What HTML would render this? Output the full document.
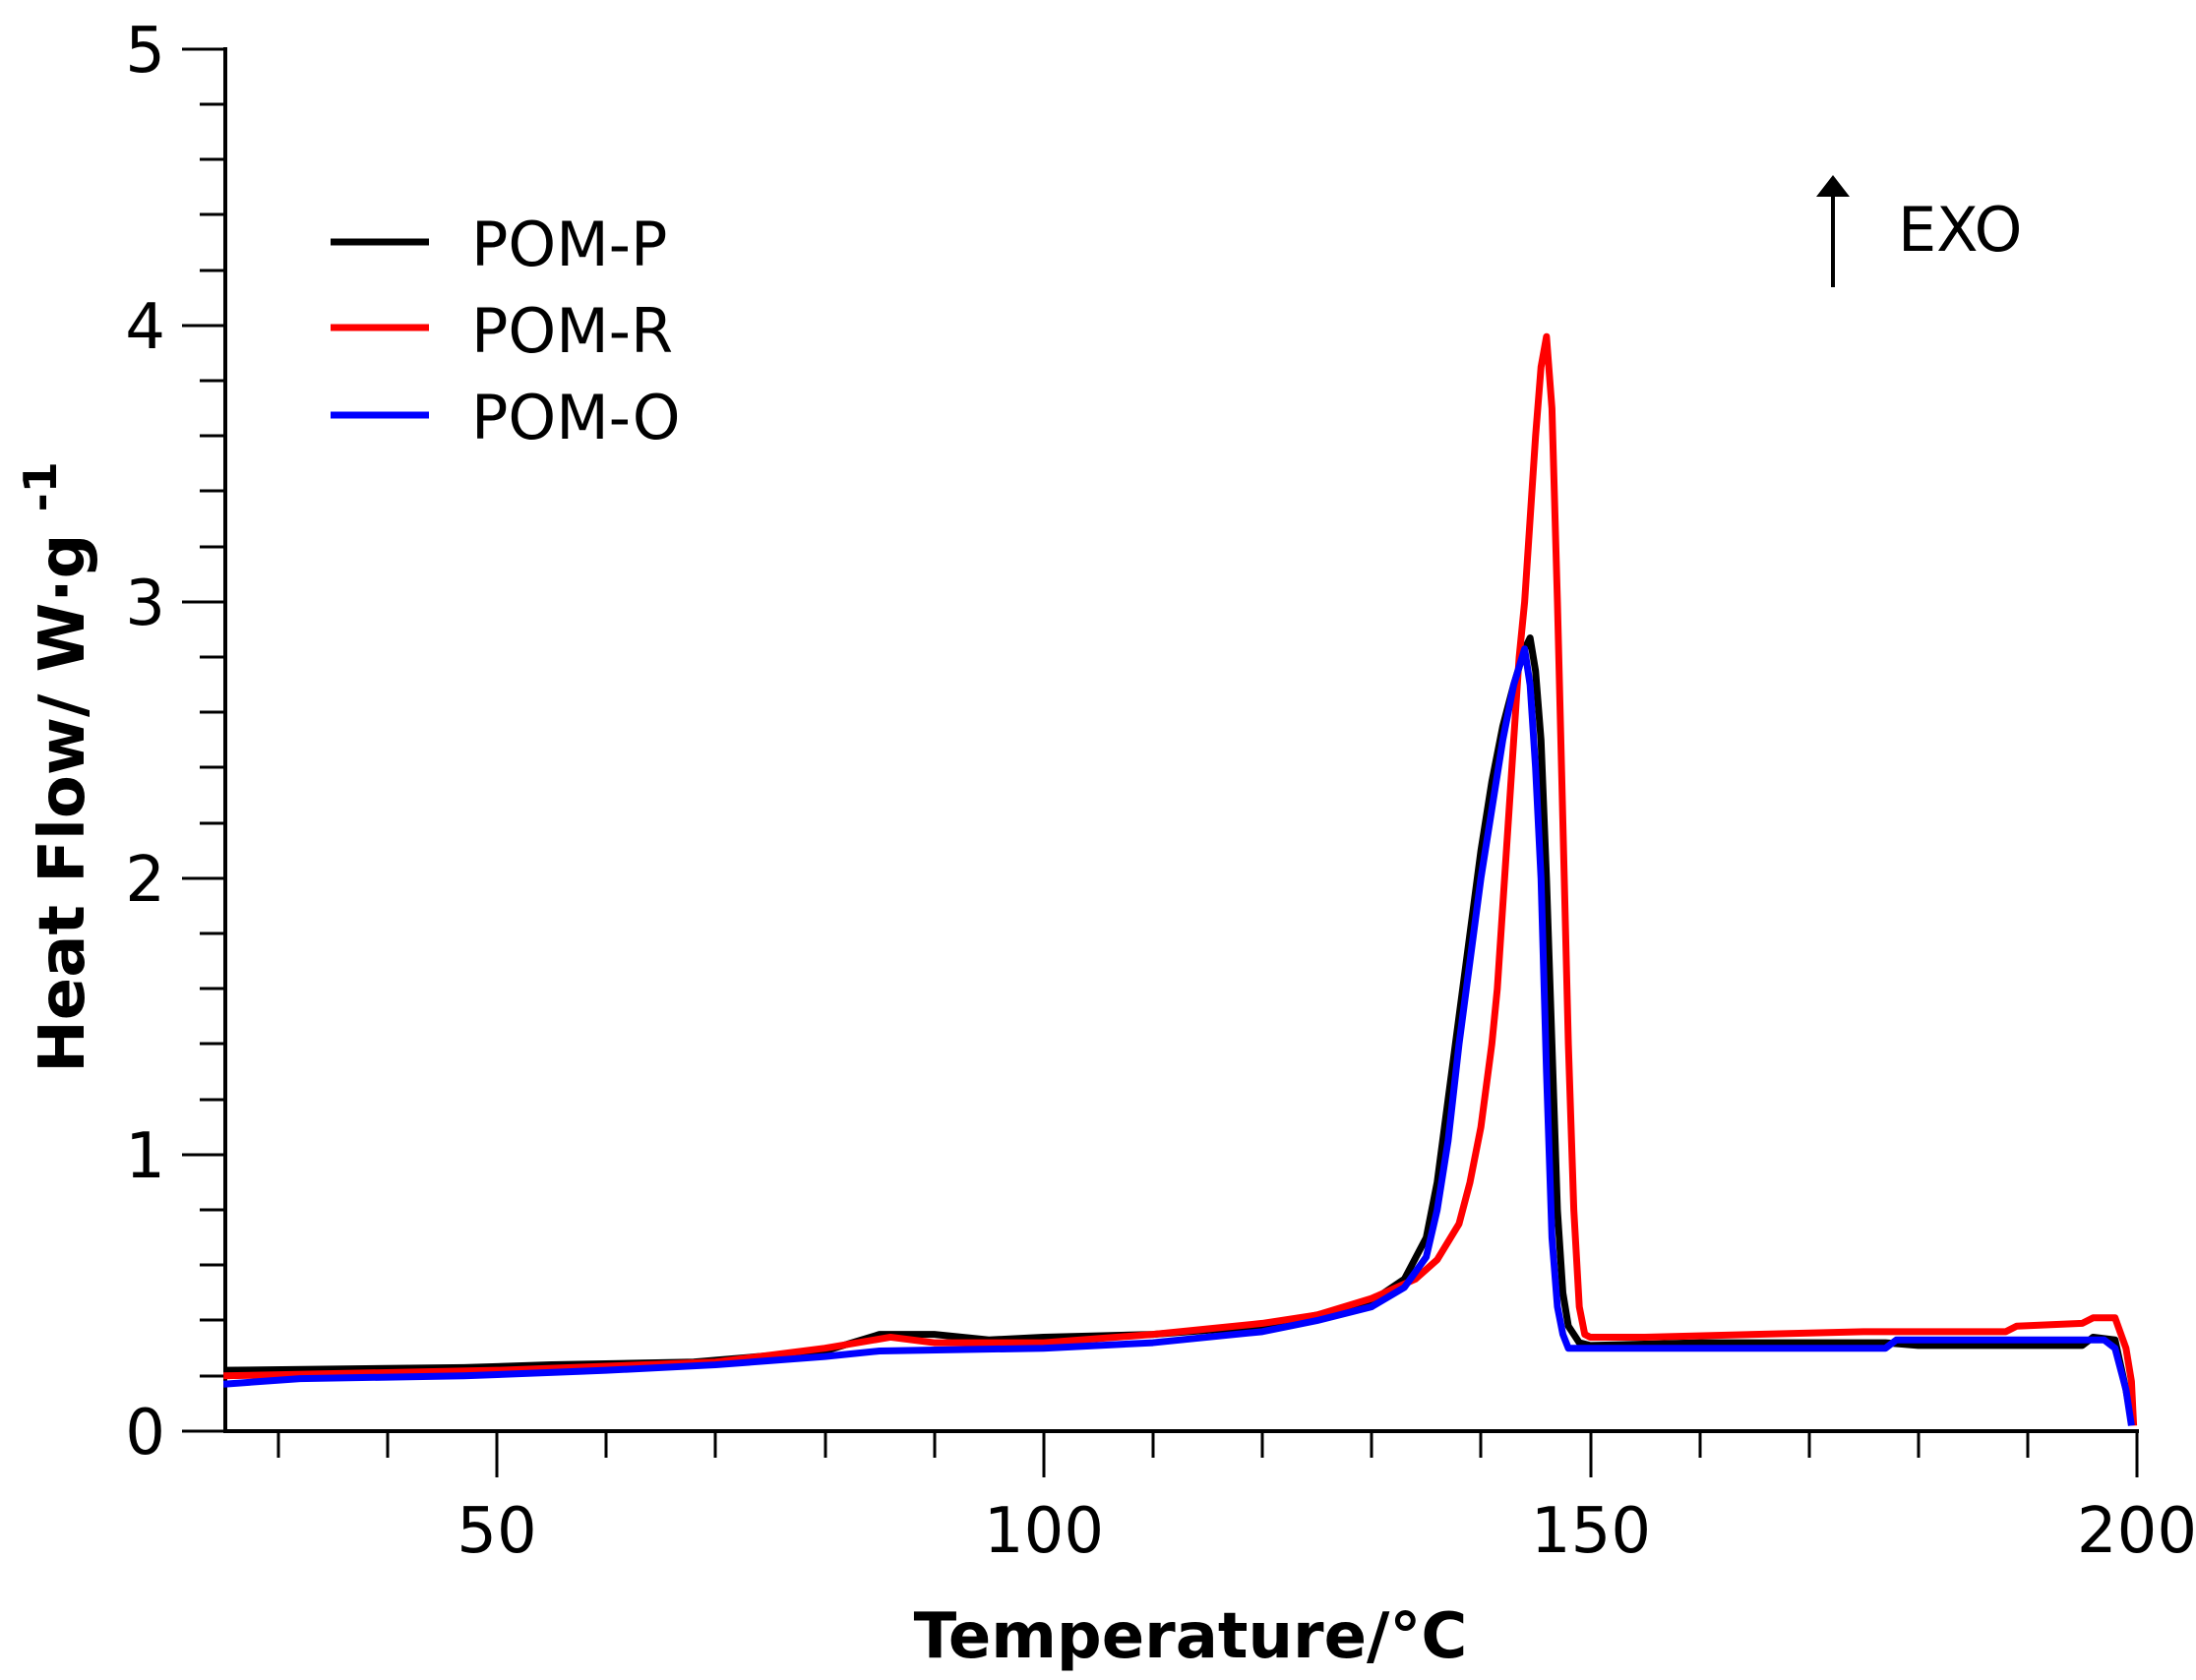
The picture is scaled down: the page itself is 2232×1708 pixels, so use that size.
<!DOCTYPE html>
<html><head><style>
html,body{margin:0;padding:0;background:#fff;}
svg{display:block;}
text{font-family:"DejaVu Sans","Liberation Sans",sans-serif;fill:#000;}
</style></head><body>
<svg width="2232" height="1708" viewBox="0 0 2232 1708" xmlns="http://www.w3.org/2000/svg">
<line x1="229" y1="48" x2="229" y2="1457" stroke="#000" stroke-width="4"/>
<line x1="227" y1="1455" x2="2174" y2="1455" stroke="#000" stroke-width="4"/>
<g stroke="#000" stroke-width="3">
<line x1="185" y1="50" x2="229" y2="50"/><line x1="185" y1="331" x2="229" y2="331"/>
<line x1="185" y1="612" x2="229" y2="612"/><line x1="185" y1="893" x2="229" y2="893"/>
<line x1="185" y1="1174" x2="229" y2="1174"/><line x1="185" y1="1455" x2="229" y2="1455"/>
<line x1="203" y1="106" x2="229" y2="106"/><line x1="203" y1="162" x2="229" y2="162"/><line x1="203" y1="218" x2="229" y2="218"/><line x1="203" y1="275" x2="229" y2="275"/>
<line x1="203" y1="387" x2="229" y2="387"/><line x1="203" y1="443" x2="229" y2="443"/><line x1="203" y1="499" x2="229" y2="499"/><line x1="203" y1="556" x2="229" y2="556"/>
<line x1="203" y1="668" x2="229" y2="668"/><line x1="203" y1="724" x2="229" y2="724"/><line x1="203" y1="780" x2="229" y2="780"/><line x1="203" y1="837" x2="229" y2="837"/>
<line x1="203" y1="949" x2="229" y2="949"/><line x1="203" y1="1005" x2="229" y2="1005"/><line x1="203" y1="1061" x2="229" y2="1061"/><line x1="203" y1="1118" x2="229" y2="1118"/>
<line x1="203" y1="1230" x2="229" y2="1230"/><line x1="203" y1="1286" x2="229" y2="1286"/><line x1="203" y1="1342" x2="229" y2="1342"/><line x1="203" y1="1399" x2="229" y2="1399"/>
<line x1="283" y1="1455" x2="283" y2="1482"/><line x1="394" y1="1455" x2="394" y2="1482"/>
<line x1="505" y1="1455" x2="505" y2="1502"/>
<line x1="616" y1="1455" x2="616" y2="1482"/><line x1="727" y1="1455" x2="727" y2="1482"/><line x1="839" y1="1455" x2="839" y2="1482"/><line x1="950" y1="1455" x2="950" y2="1482"/>
<line x1="1061" y1="1455" x2="1061" y2="1502"/>
<line x1="1172" y1="1455" x2="1172" y2="1482"/><line x1="1283" y1="1455" x2="1283" y2="1482"/><line x1="1394" y1="1455" x2="1394" y2="1482"/><line x1="1505" y1="1455" x2="1505" y2="1482"/>
<line x1="1617" y1="1455" x2="1617" y2="1502"/>
<line x1="1728" y1="1455" x2="1728" y2="1482"/><line x1="1839" y1="1455" x2="1839" y2="1482"/><line x1="1950" y1="1455" x2="1950" y2="1482"/><line x1="2061" y1="1455" x2="2061" y2="1482"/>
<line x1="2172" y1="1455" x2="2172" y2="1502"/>
</g>
<g font-size="64" text-anchor="end">
<text x="168" y="73">5</text><text x="168" y="354">4</text><text x="168" y="635">3</text>
<text x="168" y="916">2</text><text x="168" y="1197">1</text><text x="168" y="1478">0</text>
</g>
<g font-size="64" text-anchor="middle">
<text x="505" y="1578">50</text><text x="1061" y="1578">100</text><text x="1617" y="1578">150</text><text x="2172" y="1578">200</text>
</g>
<text x="1210" y="1685" font-size="64" font-weight="bold" text-anchor="middle">Temperature/°C</text>
<text transform="translate(85,780) rotate(-90)" font-size="64" font-weight="bold" text-anchor="middle">Heat Flow/ W·g <tspan dy="-28" font-size="46">-1</tspan></text>
<line x1="336" y1="246" x2="436" y2="246" stroke="#000" stroke-width="7"/>
<line x1="336" y1="333" x2="436" y2="333" stroke="#f00" stroke-width="7"/>
<line x1="336" y1="422" x2="436" y2="422" stroke="#00f" stroke-width="7"/>
<g font-size="62"><text x="479" y="270">POM-P</text><text x="479" y="358">POM-R</text><text x="479" y="446">POM-O</text></g>
<line x1="1863" y1="195" x2="1863" y2="292" stroke="#000" stroke-width="4"/>
<polygon points="1863,178 1846,200 1880,200" fill="#000"/>
<text x="1929" y="255" font-size="62">EXO</text>
<g transform="matrix(11.113 0 0 -281 -50.65 1455)" fill="none" stroke-width="7" stroke-linejoin="round">
<polyline vector-effect="non-scaling-stroke" stroke="#000" points="25,0.22 47,0.23 55,0.24 68,0.25 80,0.29 85,0.35 90,0.35 95,0.33 100,0.34 110,0.35 120,0.38 125,0.42 130,0.47 133,0.55 135,0.7 136,0.9 137,1.2 138,1.5 139,1.8 140,2.1 141,2.35 142,2.55 143,2.7 144,2.83 144.5,2.87 145,2.75 145.5,2.5 146,2.0 146.5,1.4 147,0.8 147.5,0.5 148,0.38 149,0.32 150,0.31 160,0.32 177,0.32 180,0.31 195,0.31 196,0.34 198,0.33 199,0.15 199.5,0.04"/>
<polyline vector-effect="non-scaling-stroke" stroke="#f00" points="25,0.2 50,0.22 70,0.25 80,0.3 86,0.34 90,0.32 100,0.32 110,0.35 120,0.39 125,0.42 130,0.48 134,0.55 136,0.62 138,0.75 139,0.9 140,1.1 141,1.4 141.5,1.6 142,1.9 142.5,2.2 143,2.5 143.5,2.8 144,3.0 144.5,3.3 145,3.6 145.5,3.85 146,3.96 146.5,3.7 147,3.0 147.5,2.2 148,1.4 148.5,0.8 149,0.45 149.5,0.35 150,0.34 155,0.34 175,0.36 188,0.36 189,0.38 195,0.39 196,0.41 198,0.41 199,0.3 199.5,0.18 199.7,0.02"/>
<polyline vector-effect="non-scaling-stroke" stroke="#00f" points="25,0.17 32,0.19 47,0.2 60,0.22 70,0.24 80,0.27 85,0.29 100,0.3 110,0.32 120,0.36 125,0.4 130,0.45 133,0.52 135,0.63 136,0.8 137,1.05 138,1.4 139,1.7 140,2.0 141,2.25 142,2.5 143,2.7 144,2.83 144.5,2.7 145,2.4 145.5,2.0 146,1.3 146.5,0.7 147,0.45 147.5,0.35 148,0.3 150,0.3 177,0.3 178,0.33 197,0.33 198,0.3 199,0.15 199.5,0.02"/>
</g>
</svg>
</body></html>
